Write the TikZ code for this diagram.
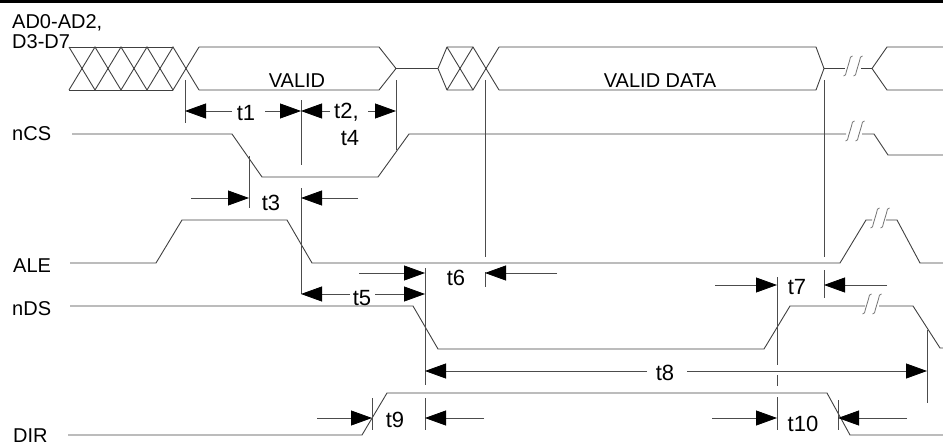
\documentclass[tikz,border=0pt]{standalone}
\usepackage{fontspec}
\setmainfont{Liberation Sans}
\usetikzlibrary{arrows.meta}
\begin{document}
\begin{tikzpicture}[x=1pt,y=-1pt,
  sig/.style={draw=black!75,line width=0.9pt,line join=miter},
  ext/.style={draw=black!70,line width=0.8pt},
  dim/.style={draw=black!70,line width=0.8pt,-{Triangle[length=21pt,width=15pt,color=black]}},
  lbl/.style={inner sep=0pt,font=\fontsize{20}{22}\selectfont},
  tlbl/.style={inner sep=0pt,font=\fontsize{22}{24}\selectfont},
  brkmark/.pic={\draw[black!55,line width=0.8pt] (-4.5,10) .. controls (-2.5,10.5) and (-2,8) .. (-1.5,5) -- (1.5,-5) .. controls (2,-8) and (2.5,-10.5) .. (4.5,-10);}
]
\useasboundingbox (0,0) rectangle (943,447);
% top rule
\fill[black] (0,0) rectangle (943,2.7);

% ---------- bus AD0-AD2, D3-D7 ----------
\draw[sig] (69,47) -- (173,47);
\draw[sig] (69,90) -- (173,90);
\draw[sig] (69,47) -- (95,90) -- (121,47) -- (147,90) -- (173,47) -- (199,90);
\draw[sig] (69,90) -- (95,47) -- (121,90) -- (147,47) -- (173,90) -- (199,47);
\draw[sig] (199,47) -- (379,47) -- (396,68.5) -- (379,90) -- (199,90);
\draw[sig] (396,68.5) -- (438,68.5);
\draw[sig] (438,68.5) -- (447,47) -- (473,47) -- (499,90);
\draw[sig] (438,68.5) -- (447,90) -- (473,90) -- (499,47);
\draw[sig] (447,47) -- (473,90);
\draw[sig] (447,90) -- (473,47);
\draw[sig] (499,47) -- (816,47) -- (824,68.5) -- (816,90) -- (499,90);
\draw[sig] (824,68.5) -- (845,68.5);
\draw[sig] (861,68.5) -- (872,68.5) -- (887,47) -- (943,47);
\draw[sig] (872,68.5) -- (887,90) -- (943,90);
\pic at (848,66) {brkmark};
\pic at (858,66) {brkmark};

% ---------- nCS ----------
\draw[sig] (72,134) -- (232,134) -- (262,177) -- (378,177) -- (409,134) -- (846,134);
\draw[sig] (862,134) -- (874,134) -- (888,155) -- (943,155);
\pic at (850,131) {brkmark};
\pic at (860,131) {brkmark};

% ---------- ALE ----------
\draw[sig] (70,263) -- (156,263) -- (182,220) -- (287,220) -- (312,263) -- (840,263) -- (866,220) -- (872,220);
\draw[sig] (886,220) -- (897,220) -- (920,263) -- (943,263);
\pic at (875,218) {brkmark};
\pic at (885,218) {brkmark};

% ---------- nDS ----------
\draw[sig] (70,306) -- (413,306) -- (438,349) -- (764,349) -- (790,306) -- (865,306);
\draw[sig] (879,306) -- (913,306) -- (940,348) -- (943,348);
\pic at (867,304) {brkmark};
\pic at (877,304) {brkmark};

% ---------- DIR ----------
\draw[sig] (68,435) -- (362,435) -- (387,393) -- (827,393) -- (850,435) -- (943,435);

% ---------- labels ----------
\node[lbl,anchor=base west,text depth=0pt] (busa) at (12,28) {AD0-AD2,};
\node[lbl,anchor=base west] (busb) at (12,48) {D3-D7};
\node[lbl,anchor=base] (valid) at (297,87) {VALID};
\node[lbl,anchor=base] (validdata) at (660,87) {VALID DATA};
\node[lbl,anchor=base west] (ncs) at (12,140) {nCS};
\node[lbl,anchor=base west] (ale) at (13,272) {ALE};
\node[lbl,anchor=base west] (nds) at (12,315) {nDS};
\node[lbl,anchor=base west] (dir) at (13,442) {DIR};

\node[tlbl,anchor=base] (t1) at (246,120) {t1};
\node[tlbl,anchor=base west] (t2) at (334,118) {t2,};
\node[tlbl,anchor=base] (t4) at (350,145) {t4};
\node[tlbl,anchor=base] (t3) at (271,210) {t3};
\node[tlbl,anchor=base] (t5) at (362,305) {t5};
\node[tlbl,anchor=base] (t6) at (456,285) {t6};
\node[tlbl,anchor=base] (t7) at (797,294) {t7};
\node[tlbl,anchor=base] (t8) at (665,380) {t8};
\node[tlbl,anchor=base] (t9) at (395,427) {t9};
\node[tlbl,anchor=base] (t10) at (803,431) {t10};

% ---------- extension lines ----------
\draw[ext] (185,80) -- (185,123);
\draw[ext] (301,100) -- (301,165);
\draw[ext] (301,188) -- (301,294);
\draw[ext] (396,80) -- (396,150);
\draw[ext] (249,156) -- (249,208);
\draw[ext] (485,80) -- (485,257);
\draw[ext] (485,272) -- (485,287);
\draw[ext] (824,80) -- (824,257);
\draw[ext] (824,270) -- (824,298);
\draw[ext] (425,268) -- (425,385);
\draw[ext] (425,398) -- (425,430);
\draw[ext] (372,398) -- (372,430);
\draw[ext] (777,277) -- (777,365);
\draw[ext] (777,375) -- (777,386);
\draw[ext] (777,397) -- (777,430);
\draw[ext] (838,400) -- (838,430);
\draw[ext] (927,330) -- (927,403);

% ---------- dimension arrows ----------
\draw[dim] (232,111) -- (185,111);
\draw[dim] (265,111) -- (301,111);
\draw[dim] (330,111) -- (301,111);
\draw[dim] (368,111) -- (396,111);
\draw[dim] (191,198) -- (249,198);
\draw[dim] (358,198) -- (301,198);
\draw[dim] (350,294) -- (301,294);
\draw[dim] (375,294) -- (425,294);
\draw[dim] (359,273) -- (425,273);
\draw[dim] (557,273) -- (485,273);
\draw[dim] (715,285) -- (777,285);
\draw[dim] (887,285) -- (824,285);
\draw[dim] (647,371) -- (425,371);
\draw[dim] (687,371) -- (927,371);
\draw[dim] (317,418) -- (372,418);
\draw[dim] (484,418) -- (425,418);
\draw[dim] (712,418) -- (777,418);
\draw[dim] (907,418) -- (838,418);
\end{tikzpicture}
\end{document}
